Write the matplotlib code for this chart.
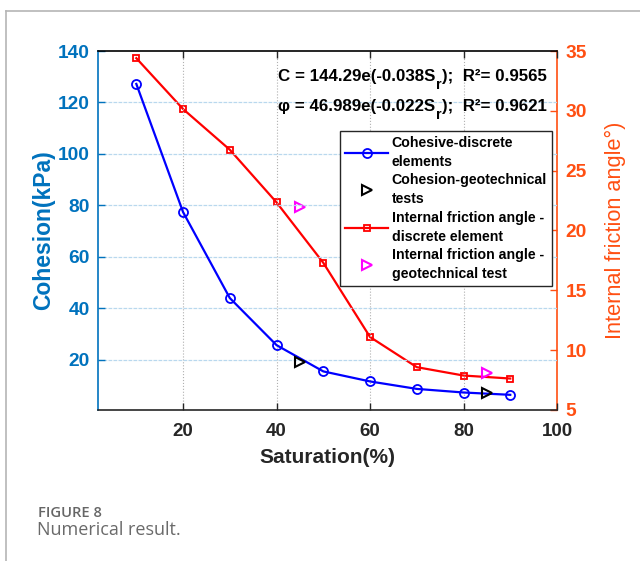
import matplotlib
matplotlib.use("Agg")
import matplotlib.pyplot as plt
from matplotlib.lines import Line2D

plt.rcParams['font.family'] = ['Liberation Sans', 'DejaVu Sans']

# Saturation levels (%)
saturation = [10, 20, 30, 40, 50, 60, 70, 80, 90]
# Cohesion from discrete element simulation (kPa)
cohesion_dem = [127.2, 77.4, 44.0, 25.7, 15.5, 11.6, 8.7, 7.3, 6.4]
# Cohesion from geotechnical tests (kPa)
geo_sat = [45, 85]
cohesion_geo = [19.1, 7.0]
# Internal friction angle from discrete element simulation (deg)
phi_dem = [34.4, 30.15, 26.75, 22.35, 17.3, 11.1, 8.58, 7.88, 7.63]
# Internal friction angle from geotechnical tests (deg)
phi_geo = [22.0, 8.1]

x_ticks = [20, 40, 60, 80, 100]
left_ticks = [20, 40, 60, 80, 100, 120, 140]
right_ticks = [5, 10, 15, 20, 25, 30, 35]

BLUE_AX = '#0072BD'
ORANGE_AX = '#FF4F12'
TICK_GRAY = '#262626'

fig = plt.figure(figsize=(6.4, 5.61), dpi=100)

# page frame lines
fig.add_artist(Line2D([6/640, 1.0], [1 - 11/561, 1 - 11/561], transform=fig.transFigure,
                      color='#b5b5b5', lw=1.2))
fig.add_artist(Line2D([6/640, 6/640], [0, 1 - 11/561], transform=fig.transFigure,
                      color='#b5b5b5', lw=1.2))

ax = fig.add_axes([98/640, 1 - 410/561, (557 - 98)/640, (410 - 51)/561])
ax2 = ax.twinx()

ax.set_xlim(1.8, 100)
ax.set_ylim(0.5, 140)
ax2.set_ylim(5, 35)

# grid
for xv in x_ticks[:-1]:
    ax.axvline(xv, color='#b0b0b0', lw=0.8, ls=':', zorder=0)
for yv in left_ticks[:-1]:
    ax.axhline(yv, color='#b9d8ee', lw=0.9, ls=(0, (3, 1)), zorder=0)

l1, = ax.plot(saturation, cohesion_dem, color='#0000FF', lw=1.6, marker='o', ms=6.5,
              mfc='none', mec='#0000FF', mew=1.3, zorder=3)
l2, = ax.plot(geo_sat, cohesion_geo, ls='none', marker='>', ms=7, mfc='none',
              mec='black', mew=1.5, zorder=3)
l3, = ax2.plot(saturation, phi_dem, color='#FF0000', lw=1.6, marker='s', ms=5,
               mfc='none', mec='#FF0000', mew=1.3, zorder=3)
l4, = ax2.plot(geo_sat, phi_geo, ls='none', marker='>', ms=7, mfc='none',
               mec='#FF00FF', mew=1.5, zorder=3)

# spines
ax.spines['left'].set_color(BLUE_AX)
ax.spines['right'].set_visible(False)
ax.spines['top'].set_color('black')
ax.spines['bottom'].set_color(TICK_GRAY)
ax2.spines['right'].set_color(ORANGE_AX)
ax2.spines['left'].set_visible(False)
ax2.spines['top'].set_visible(False)
ax2.spines['bottom'].set_visible(False)
for a in (ax, ax2):
    for s in a.spines.values():
        s.set_linewidth(1.2)

ax.set_xticks(x_ticks)
ax.set_xticklabels([str(v) for v in x_ticks])
ax.set_yticks(left_ticks)
ax.set_yticklabels([str(v) for v in left_ticks])
ax2.set_yticks(right_ticks)
ax2.set_yticklabels([str(v) for v in right_ticks])

ax.tick_params(axis='x', direction='in', top=True, length=5, width=1, colors=TICK_GRAY,
               labelsize=13.5, pad=9)
ax.tick_params(axis='y', direction='in', length=5, width=1, colors=BLUE_AX,
               labelsize=13.8, pad=6)
ax2.tick_params(axis='y', direction='in', length=5, width=1, colors=ORANGE_AX,
                labelsize=13.8, pad=6)
for lab in ax.get_xticklabels() + ax.get_yticklabels() + ax2.get_yticklabels():
    lab.set_fontweight('bold')

ax.set_xlabel('Saturation(%)', fontsize=15, fontweight='bold', color=TICK_GRAY, labelpad=6)
ax.set_ylabel('Cohesion(kPa)', fontsize=16.5, fontweight='bold', color=BLUE_AX, labelpad=2)
ax2.set_ylabel('Internal friction angle°)', fontsize=15.7, color=ORANGE_AX, labelpad=13)

# fitted equations
eq_fs = 12.2
def equation(y, head, tail):
    t1 = ax.text(40.3, y, head, fontsize=eq_fs, fontweight='bold', ha='left',
                 va='baseline', zorder=4)
    t2 = ax.annotate('r', xy=(1.0, 0.0), xycoords=t1, xytext=(0.5, -1.0),
                     textcoords='offset points', fontsize=eq_fs * 0.85,
                     fontweight='bold', ha='left', va='center', zorder=4)
    ax.annotate(tail, xy=(1.0, 0.0), xycoords=(t2, t1), xytext=(0.5, 0),
                textcoords='offset points', fontsize=eq_fs, fontweight='bold',
                ha='left', va='bottom', zorder=4)
    return t1

equation(128.5, 'C = 144.29e(-0.038S', ');  R²= 0.9565')
equation(116.8, 'φ = 46.989e(-0.022S', ');  R²= 0.9621')

leg = ax.legend([l1, l2, l3, l4],
                ['Cohesive-discrete\nelements', 'Cohesion-geotechnical\ntests',
                 'Internal friction angle -\ndiscrete element',
                 'Internal friction angle -\ngeotechnical test'],
                loc='upper left', bbox_to_anchor=((340 - 98) / 459, (410 - 131) / 359),
                prop={'weight': 'bold', 'size': 10.2}, frameon=True, fancybox=False,
                edgecolor='#262626', framealpha=1, borderpad=0.35, labelspacing=0.32,
                handlelength=3.05, handletextpad=0.25, borderaxespad=0)
for txt in leg.get_texts():
    txt.set_linespacing(1.45)
leg.get_frame().set_linewidth(1.0)
leg.set_zorder(5)
ax.set_zorder(ax2.get_zorder() + 1)
ax.patch.set_visible(False)

# caption
fig.text(38/640, 1 - 513/561, 'FIGURE 8', fontsize=10.6, fontweight='semibold',
         color='#666666', family=['Open Sans', 'DejaVu Sans'], va='center', ha='left')
fig.text(37/640, 1 - 530/561, 'Numerical result.', fontsize=13, color='#6a6a6a',
         family=['Open Sans', 'DejaVu Sans'], va='center', ha='left')

fig.savefig('out.png', dpi=100, facecolor='white')
